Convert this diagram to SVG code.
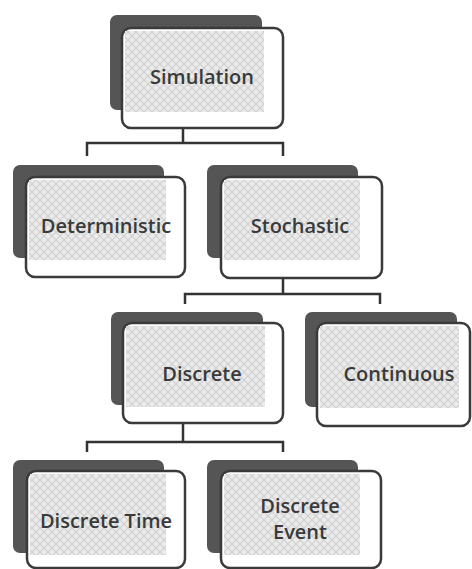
<svg xmlns="http://www.w3.org/2000/svg" width="472" height="569" viewBox="0 0 472 569">
  <defs>
    <pattern id="hatch" width="8" height="8" patternUnits="userSpaceOnUse">
      <rect width="8" height="8" fill="#ebebeb"/>
      <path d="M0,0 L8,8 M8,0 L0,8" stroke="#cfcfcf" stroke-width="1.1"/>
    </pattern>
  </defs>
  <style>
    .back { fill: #555555; }
    .front { fill: #ffffff; stroke: #3a3a3a; stroke-width: 2.5; }
    .tex { fill: url(#hatch); }
    .label { font-family: "Open Sans", "Liberation Sans", sans-serif; font-size: 20px; font-weight: 600; fill: #3a3a3a; text-anchor: middle; }
    .conn { fill: none; stroke: #333333; stroke-width: 2.5; }
  </style>
  <rect width="472" height="569" fill="#ffffff"/>

  <g id="connectors">
    <path class="conn" d="M183,128 V143 M87,156 V143 H283 V156"/>
    <path class="conn" d="M283,278 V294 M185,304 V294 H380 V304"/>
    <path class="conn" d="M183,423 V442 M87,452 V442 H283 V452"/>
  </g>

  <g id="simulation">
    <rect class="back" x="110" y="15" width="152" height="95" rx="7"/>
    <rect class="front" x="122" y="28" width="161" height="100" rx="9"/>
    <rect class="tex" x="125" y="31" width="139" height="81"/>
    <text class="label" x="202" y="84">Simulation</text>
  </g>

  <g id="deterministic">
    <rect class="back" x="13" y="165" width="151" height="93" rx="7"/>
    <rect class="front" x="26" y="177" width="159" height="100" rx="9"/>
    <rect class="tex" x="29" y="180" width="137" height="80"/>
    <text class="label" x="106" y="233">Deterministic</text>
  </g>

  <g id="stochastic">
    <rect class="back" x="207" y="165" width="151" height="93" rx="7"/>
    <rect class="front" x="221" y="177" width="161" height="101" rx="9"/>
    <rect class="tex" x="224" y="180" width="136" height="80"/>
    <text class="label" x="300" y="233">Stochastic</text>
  </g>

  <g id="discrete">
    <rect class="back" x="111" y="312" width="152" height="93" rx="7"/>
    <rect class="front" x="123" y="323" width="160" height="100" rx="9"/>
    <rect class="tex" x="126" y="326" width="139" height="81"/>
    <text class="label" x="202" y="381">Discrete</text>
  </g>

  <g id="continuous">
    <rect class="back" x="305" y="312" width="152" height="95" rx="7"/>
    <rect class="front" x="317" y="323" width="153" height="103" rx="9"/>
    <rect class="tex" x="320" y="326" width="139" height="82"/>
    <text class="label" x="399" y="381">Continuous</text>
  </g>

  <g id="discrete-time">
    <rect class="back" x="13" y="460" width="151" height="93" rx="7"/>
    <rect class="front" x="27" y="471" width="158" height="97" rx="9"/>
    <rect class="tex" x="30" y="474" width="136" height="81"/>
    <text class="label" x="106" y="528">Discrete Time</text>
  </g>

  <g id="discrete-event">
    <rect class="back" x="207" y="460" width="151" height="93" rx="7"/>
    <rect class="front" x="221" y="471" width="160" height="97" rx="9"/>
    <rect class="tex" x="224" y="474" width="136" height="81"/>
    <text class="label" x="300" y="513">Discrete</text>
    <text class="label" x="300" y="539">Event</text>
  </g>
</svg>
